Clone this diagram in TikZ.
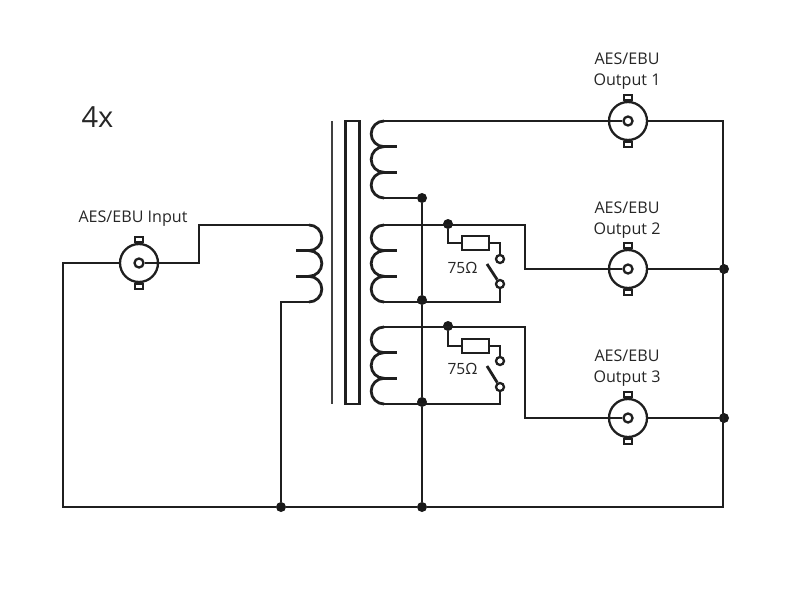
\documentclass[tikz,border=0pt]{standalone}
\usepackage{fontspec}
\setmainfont{Open Sans}
\newcommand{\coilright}[2]{% opens to the right, bulges left
  \draw[wire] (#1,#2) arc (270:90:12.83) arc (270:90:12.83) arc (270:90:12.83);
  \draw[wire] (#1,#2+25.67) -- ++(13,0) (#1,#2+51.33) -- ++(13,0);}
\newcommand{\coilleft}[2]{% opens to the left, bulges right
  \draw[wire] (#1,#2) arc (-90:90:12.83) arc (-90:90:12.83) arc (-90:90:12.83);
  \draw[wire] (#1,#2+25.67) -- ++(-13,0) (#1,#2+51.33) -- ++(-13,0);}
\newcommand{\bnc}[3]{% connector with its two tabs and its pin
  \node[bncbody] (#1) at (#2,#3) {};
  \node[bnctab,anchor=south] at (#1.north) {};
  \node[bnctab,anchor=north] at (#1.south) {};
  \node[pin] (#1pin) at (#2,#3) {};}
\tikzset{
  wire/.style = {line width=2.8pt, draw=black!88, line join=miter},
  bncbody/.style = {shape=circle, draw=black!88, line width=2.3pt, minimum size=38pt, inner sep=0pt},
  bnctab/.style = {shape=rectangle, draw=black!88, line width=1.7pt, minimum width=8.5pt, minimum height=5pt, inner sep=0pt},
  pin/.style = {shape=circle, draw=black!88, line width=2.3pt, minimum size=9pt, inner sep=0pt},
  contact/.style = {pin, minimum size=8pt},
  junction/.style = {shape=circle, fill=black!90, minimum size=10pt, inner sep=0pt},
  resistor/.style = {shape=rectangle, draw=black!88, line width=2.3pt, minimum width=27pt, minimum height=14pt, inner sep=0pt},
  caption/.style = {align=center, text=black!85, font=\fontsize{16.1}{21}\selectfont, inner sep=0pt},
}
\begin{document}
\begin{tikzpicture}[x=1pt, y=-1pt]
  \useasboundingbox (0,0) rectangle (800,600);

  % texts
  \node[caption, font=\fontsize{29}{32}\selectfont] (count) at (97.5,117) {4x};
  \node[caption] (inlabel) at (133,218.5) {AES/EBU Input};
  \node[caption] (outlabela) at (627,71.5) {AES/EBU\\Output 1};
  \node[caption] (outlabelb) at (627,220.5) {AES/EBU\\Output 2};
  \node[caption] (outlabelc) at (627,368.5) {AES/EBU\\Output 3};
  \node[caption, font=\fontsize{15.5}{21}\selectfont] (ohmb) at (462.5,268) {75Ω};
  \node[caption, font=\fontsize{15.5}{21}\selectfont] (ohmc) at (462.5,369) {75Ω};

  % connectors
  \bnc{input}{139}{263}
  \bnc{outa}{628}{121}
  \bnc{outb}{628}{269}
  \bnc{outc}{628}{418}

  % core
  \draw[line width=2.2pt, draw=black!75] (332,121) -- (332,404);
  \node[shape=rectangle, draw=black!88, line width=2.4pt, minimum width=14pt, minimum height=283pt, inner sep=0pt] (core) at (352.3,262.5) {};

  % windings
  \coilleft{309}{225}
  \coilright{384}{121}
  \coilright{384}{225}
  \coilright{384}{327}

  % junctions
  \node[junction] (ja) at (422,198) {};
  \node[junction] (jb) at (422,300) {};
  \node[junction] (jc) at (422,402) {};
  \node[junction] (jd) at (422,507) {};
  \node[junction] (je) at (281,507) {};
  \node[junction] (tapb) at (448,224) {};
  \node[junction] (tapc) at (448,326) {};
  \node[junction] (jf) at (724,269) {};
  \node[junction] (jg) at (724,418) {};

  % terminating resistors and switches
  \node[resistor] (rb) at (475.5,243) {};
  \node[resistor] (rc) at (475.5,346) {};
  \node[contact] (sbt) at (500,259) {};
  \node[contact] (sbb) at (500,284) {};
  \node[contact] (sct) at (500,361) {};
  \node[contact] (scb) at (500,387) {};
  \coordinate (bladeb) at (487,264);
  \coordinate (bladec) at (487,366);

  % wiring
  \draw[wire] (input.west) -- (63,263) -- (63,507) -- (je) -- (jd) -- (723,507) -- (723,121) -- (outa.east);
  \draw[wire] (inputpin.east) -- (199,263) -- (199,225) -- (309,225);
  \draw[wire] (309,302) -- (281,302) -- (je);
  \draw[wire] (384,121) -- (outapin.west);
  \draw[wire] (384,198) -- (ja);
  \draw[wire] (ja) -- (jb) -- (jc) -- (jd);

  \draw[wire] (384,225) -- (525,225) -- (525,269) -- (outbpin.west);
  \draw[wire] (outb.east) -- (jf);
  \draw[wire] (tapb) |- (rb.west);
  \draw[wire] (rb.east) -| (sbt.north);
  \draw[wire] (sbb.south) |- (384,302);
  \draw[wire] (sbb) -- (bladeb);

  \draw[wire] (384,327) -- (525,327) -- (525,418) -- (outcpin.west);
  \draw[wire] (outc.east) -- (jg);
  \draw[wire] (tapc) |- (rc.west);
  \draw[wire] (rc.east) -| (sct.north);
  \draw[wire] (scb.south) |- (384,404);
  \draw[wire] (scb) -- (bladec);
\end{tikzpicture}
\end{document}
